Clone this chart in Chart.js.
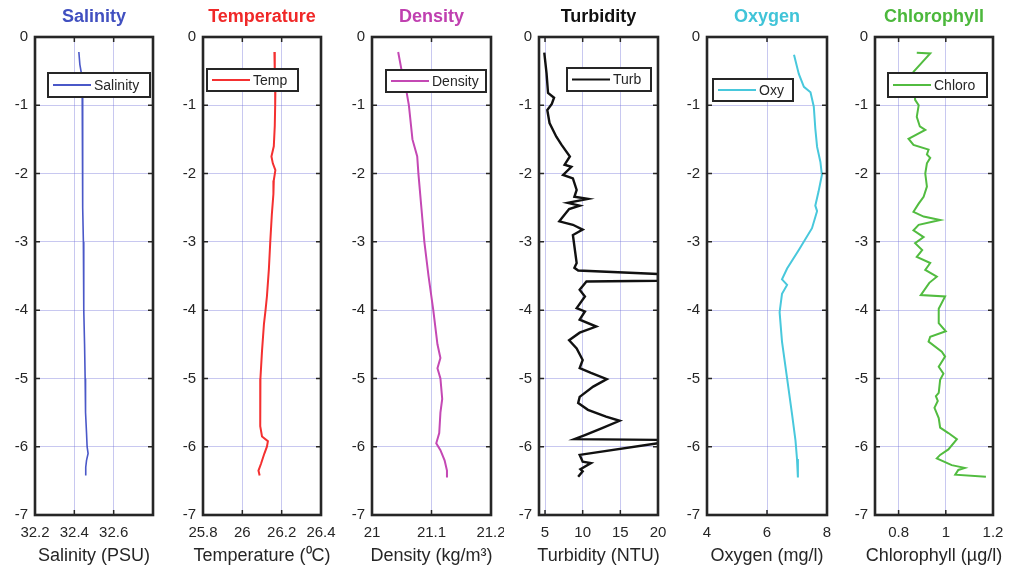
<!DOCTYPE html>
<html>
<head>
<meta charset="utf-8">
<script src="https://cdn.jsdelivr.net/npm/chart.js@4/dist/chart.umd.min.js"></script>
<style>
  html, body { margin: 0; padding: 0; background: #ffffff; }
  #wrap { position: relative; width: 1014px; height: 573px; overflow: hidden; }
  #wrap canvas { position: absolute; top: 0; }
</style>
</head>
<body>
<div id="wrap"></div>
<script>
// ---- profile data: depth (m) and measured value ----
const depthTicks = [0, -1, -2, -3, -4, -5, -6, -7];

const salinityDepth = [-0.22, -0.4, -0.55, -0.8, -1.2, -1.6, -2.0, -2.5, -3.0, -3.5, -4.0, -4.5, -5.0, -5.3, -5.5, -5.8, -6.0, -6.1, -6.2, -6.3, -6.42];
const salinity      = [32.423, 32.428, 32.437, 32.44, 32.441, 32.442, 32.443, 32.444, 32.446, 32.447, 32.449, 32.452, 32.455, 32.458, 32.456, 32.462, 32.465, 32.47, 32.462, 32.458, 32.458];
const salinityTicks = [32.2, 32.4, 32.6];

const temperatureDepth = [-0.22, -0.5, -0.8, -1.0, -1.3, -1.6, -1.75, -1.85, -1.95, -2.1, -2.3, -2.6, -3.0, -3.4, -3.8, -4.0, -4.2, -4.6, -5.0, -5.4, -5.7, -5.85, -5.92, -6.0, -6.1, -6.25, -6.35, -6.42];
const temperature      = [26.163, 26.165, 26.168, 26.167, 26.165, 26.16, 26.148, 26.155, 26.168, 26.16, 26.158, 26.15, 26.142, 26.135, 26.125, 26.118, 26.11, 26.1, 26.092, 26.09, 26.092, 26.1, 26.13, 26.125, 26.112, 26.095, 26.082, 26.088];
const temperatureTicks = [25.8, 26, 26.2, 26.4];

const densityDepth = [-0.22, -0.5, -0.8, -1.0, -1.5, -1.75, -2.0, -2.5, -3.0, -3.5, -4.0, -4.5, -4.7, -4.85, -5.0, -5.3, -5.5, -5.8, -5.95, -6.05, -6.2, -6.35, -6.45];
const density      = [21.044, 21.05, 21.058, 21.062, 21.068, 21.076, 21.078, 21.083, 21.088, 21.095, 21.103, 21.11, 21.115, 21.11, 21.115, 21.118, 21.115, 21.113, 21.108, 21.115, 21.122, 21.126, 21.126];
const densityTicks = [21, 21.1, 21.2];

const turbidityDepth = [-0.23, -0.53, -0.82, -0.89, -0.98, -1.07, -1.26, -1.46, -1.58, -1.75, -1.87, -1.9, -2.02, -2.07, -2.24, -2.34, -2.37, -2.43, -2.47, -2.52, -2.63, -2.7, -2.75, -2.82, -2.9, -3.31, -3.38, -3.42, -3.47, -3.57, -3.58, -3.7, -3.8, -3.97, -4.02, -4.14, -4.24, -4.33, -4.44, -4.56, -4.73, -4.85, -4.92, -5.01, -5.12, -5.27, -5.36, -5.46, -5.56, -5.62, -5.73, -5.83, -5.89, -5.9, -5.95, -6.12, -6.17, -6.22, -6.24, -6.33, -6.36, -6.44];
const turbidity      = [4.9, 5.2, 5.4, 6.2, 5.9, 5.3, 5.6, 6.5, 7.2, 8.3, 7.6, 8.5, 7.4, 8.7, 9.2, 8.9, 10.7, 8.0, 9.6, 8.2, 7.4, 6.9, 8.7, 10.0, 8.7, 9.2, 8.9, 9.4, 20, 20, 10.5, 9.6, 10.3, 9.2, 10.3, 9.6, 11.8, 9.6, 8.2, 9.2, 10.0, 9.6, 11.1, 13.2, 11.4, 9.6, 9.4, 10.7, 13.1, 14.9, 12.5, 10.3, 8.9, 20, 20, 9.6, 9.8, 10.0, 11.1, 9.7, 10.0, 9.4];
const turbidityTicks = [5, 10, 15, 20];

const oxygenDepth = [-0.26, -0.54, -0.73, -0.81, -1.02, -1.34, -1.61, -1.83, -2.02, -2.26, -2.47, -2.55, -2.8, -3.12, -3.39, -3.55, -3.63, -3.76, -4.03, -4.46, -5.0, -5.54, -5.91, -6.18, -6.45];
const oxygen      = [6.9, 7.06, 7.23, 7.45, 7.56, 7.61, 7.67, 7.78, 7.83, 7.72, 7.61, 7.67, 7.5, 7.06, 6.67, 6.5, 6.67, 6.5, 6.42, 6.5, 6.67, 6.84, 6.95, 7.0, 7.03];
const oxygenTicks = [4, 6, 8];

const chlorophyllDepth = [-0.23, -0.24, -0.51, -0.75, -0.92, -1.0, -1.17, -1.31, -1.36, -1.49, -1.58, -1.65, -1.72, -1.77, -1.85, -2.0, -2.19, -2.34, -2.44, -2.56, -2.63, -2.68, -2.75, -2.83, -2.93, -3.02, -3.12, -3.22, -3.31, -3.41, -3.51, -3.6, -3.78, -3.8, -3.98, -4.19, -4.31, -4.39, -4.46, -4.61, -4.68, -4.83, -4.93, -5.02, -5.21, -5.26, -5.33, -5.43, -5.58, -5.72, -5.8, -5.89, -6.04, -6.12, -6.17, -6.27, -6.31, -6.34, -6.41, -6.44];
const chlorophyll      = [0.877, 0.934, 0.863, 0.868, 0.87, 0.885, 0.877, 0.89, 0.913, 0.842, 0.863, 0.927, 0.92, 0.934, 0.92, 0.913, 0.92, 0.906, 0.885, 0.863, 0.906, 0.976, 0.885, 0.863, 0.906, 0.87, 0.9, 0.877, 0.934, 0.913, 0.962, 0.93, 0.894, 0.997, 0.97, 0.97, 1.0, 0.934, 0.927, 0.983, 0.997, 0.97, 0.99, 0.976, 0.97, 0.958, 0.966, 0.952, 0.97, 0.976, 1.011, 1.047, 1.011, 0.976, 0.962, 1.025, 1.08, 1.053, 1.04, 1.17];
const chlorophyllTicks = [0.8, 1, 1.2];

// ---- panel layout ----
const FONT = "'Liberation Sans', Arial, Helvetica, sans-serif";
const PAGE_W = 1014, PAGE_H = 573;
const AXIS_LEFT = 35;      // width reserved for depth labels
const PLOT_TOP = 37, PLOT_BOTTOM = 515;
const X_TITLE_Y = 556;
const TEXT = '#262626';
const GRID = 'rgba(110,110,215,0.38)';

const panels = [
  { title: 'Salinity',    titleColor: '#4150c0', xTitle: 'Salinity (PSU)',      label: 'Salinity', color: '#4a58c8', width: 1.6,
    depth: salinityDepth, values: salinity, ticks: salinityTicks, min: 32.2, max: 32.8,
    left: 35, plotW: 118, legend: { x: 13, y: 36, w: 102, h: 24 } },
  { title: 'Temperature', titleColor: '#f02828', xTitle: 'Temperature (\u2070C)', label: 'Temp', color: '#f43030', width: 2,
    depth: temperatureDepth, values: temperature, ticks: temperatureTicks, min: 25.8, max: 26.4,
    left: 203, plotW: 118, legend: { x: 4, y: 32, w: 91, h: 22 } },
  { title: 'Density',     titleColor: '#c040b0', xTitle: 'Density (kg/m\u00b3)',  label: 'Density', color: '#c448b4', width: 2,
    depth: densityDepth, values: density, ticks: densityTicks, min: 21, max: 21.2,
    left: 372, plotW: 119, legend: { x: 14, y: 33, w: 100, h: 22 } },
  { title: 'Turbidity',   titleColor: '#111111', xTitle: 'Turbidity (NTU)',     label: 'Turb', color: '#111111', width: 2.4,
    depth: turbidityDepth, values: turbidity, ticks: turbidityTicks, min: 4.2, max: 20,
    left: 539, plotW: 119, legend: { x: 28, y: 31, w: 84, h: 23 } },
  { title: 'Oxygen',      titleColor: '#40c4d8', xTitle: 'Oxygen (mg/l)',       label: 'Oxy', color: '#48c8dc', width: 2,
    depth: oxygenDepth, values: oxygen, ticks: oxygenTicks, min: 4, max: 8,
    left: 707, plotW: 120, legend: { x: 6, y: 42, w: 80, h: 22 } },
  { title: 'Chlorophyll', titleColor: '#4cb83c', xTitle: 'Chlorophyll (\u00b5g/l)', label: 'Chloro', color: '#52bc40', width: 2,
    depth: chlorophyllDepth, values: chlorophyll, ticks: chlorophyllTicks, min: 0.7, max: 1.2,
    left: 875, plotW: 118, legend: { x: 13, y: 36, w: 99, h: 24 } }
];

// Box frame, inward tick marks, x-axis caption and an inset legend, drawn over the data.
const framePlugin = {
  id: 'frame',
  afterDatasetsDraw(chart, args, opts) {
    const { ctx, chartArea: a, scales } = chart;
    ctx.save();
    ctx.strokeStyle = TEXT;
    ctx.lineWidth = 1.5;
    ctx.beginPath();
    scales.x.ticks.forEach(t => {
      const px = scales.x.getPixelForValue(t.value);
      ctx.moveTo(px, a.top); ctx.lineTo(px, a.top + 5);
      ctx.moveTo(px, a.bottom); ctx.lineTo(px, a.bottom - 5);
    });
    scales.y.ticks.forEach(t => {
      const py = scales.y.getPixelForValue(t.value);
      ctx.moveTo(a.left, py); ctx.lineTo(a.left + 5, py);
      ctx.moveTo(a.right, py); ctx.lineTo(a.right - 5, py);
    });
    ctx.stroke();
    ctx.lineWidth = 2.6;
    ctx.strokeRect(a.left, a.top, a.right - a.left, a.bottom - a.top);

    // x-axis caption, centred under the box and free to run past its edges
    ctx.fillStyle = TEXT;
    ctx.font = '18px ' + FONT;
    ctx.textAlign = 'center';
    ctx.textBaseline = 'middle';
    ctx.fillText(opts.caption, (a.left + a.right) / 2, X_TITLE_Y);

    // legend box
    const lg = opts.box;
    const ds = chart.data.datasets[0];
    const bx = a.left + lg.x, by = a.top + lg.y;
    ctx.fillStyle = '#ffffff';
    ctx.fillRect(bx, by, lg.w, lg.h);
    ctx.lineWidth = 2;
    ctx.strokeStyle = TEXT;
    ctx.strokeRect(bx, by, lg.w, lg.h);
    const my = by + lg.h / 2;
    ctx.strokeStyle = ds.borderColor;
    ctx.lineWidth = 2;
    ctx.beginPath();
    ctx.moveTo(bx + 5, my); ctx.lineTo(bx + 43, my);
    ctx.stroke();
    ctx.fillStyle = TEXT;
    ctx.font = '14px ' + FONT;
    ctx.textAlign = 'left';
    ctx.fillText(ds.label, bx + 46, my + 1);
    ctx.restore();
  }
};

const fmt = v => String(Math.round(v * 100) / 100);
const noPad = s => { s.paddingLeft = 0; s.paddingRight = 0; s.paddingTop = 0; s.paddingBottom = 0; };

const wrap = document.getElementById('wrap');
panels.forEach((p, i) => {
  const cLeft = p.left - AXIS_LEFT;
  const cRight = i < panels.length - 1 ? panels[i + 1].left - AXIS_LEFT : PAGE_W;
  const cW = cRight - cLeft;
  const canvas = document.createElement('canvas');
  canvas.width = cW; canvas.height = PAGE_H;
  canvas.style.left = cLeft + 'px';
  canvas.style.width = cW + 'px'; canvas.style.height = PAGE_H + 'px';
  wrap.appendChild(canvas);

  const points = p.depth.map((d, k) => ({ x: p.values[k], y: d }));

  new Chart(canvas, {
    type: 'scatter',
    data: {
      datasets: [{
        label: p.label,
        data: points,
        showLine: true,
        borderColor: p.color,
        backgroundColor: p.color,
        borderWidth: p.width,
        pointRadius: 0,
        tension: 0
      }]
    },
    options: {
      responsive: false,
      animation: false,
      devicePixelRatio: 1,
      layout: { padding: { left: 0, top: 0, bottom: 0, right: cW - AXIS_LEFT - p.plotW } },
      plugins: {
        legend: { display: false },
        tooltip: { enabled: false },
        title: {
          display: true,
          text: p.title,
          color: p.titleColor,
          fullSize: false,
          font: { family: FONT, size: 18, weight: 'bold', lineHeight: 1.2 },
          padding: { top: 6, bottom: PLOT_TOP - 6 - 18 * 1.2 }
        },
        frame: { box: p.legend, caption: p.xTitle }
      },
      scales: {
        x: {
          type: 'linear',
          position: 'bottom',
          min: p.min, max: p.max,
          afterFit: s => { s.height = PAGE_H - PLOT_BOTTOM; noPad(s); },
          afterBuildTicks: s => { s.ticks = p.ticks.map(v => ({ value: v })); },
          ticks: { color: TEXT, font: { family: FONT, size: 15 }, padding: 9, maxRotation: 0, autoSkip: false, callback: fmt },
          grid: { color: GRID, lineWidth: 1, drawTicks: false },
          border: { display: false },
          title: { display: false }
        },
        y: {
          type: 'linear',
          position: 'left',
          min: -7, max: 0,
          afterFit: s => { s.width = AXIS_LEFT; noPad(s); },
          afterBuildTicks: s => { s.ticks = depthTicks.map(v => ({ value: v })); },
          ticks: { color: TEXT, font: { family: FONT, size: 15 }, padding: 7, callback: fmt },
          grid: { color: GRID, lineWidth: 1, drawTicks: false },
          border: { display: false }
        }
      }
    },
    plugins: [framePlugin]
  });
});
</script>
</body>
</html>
